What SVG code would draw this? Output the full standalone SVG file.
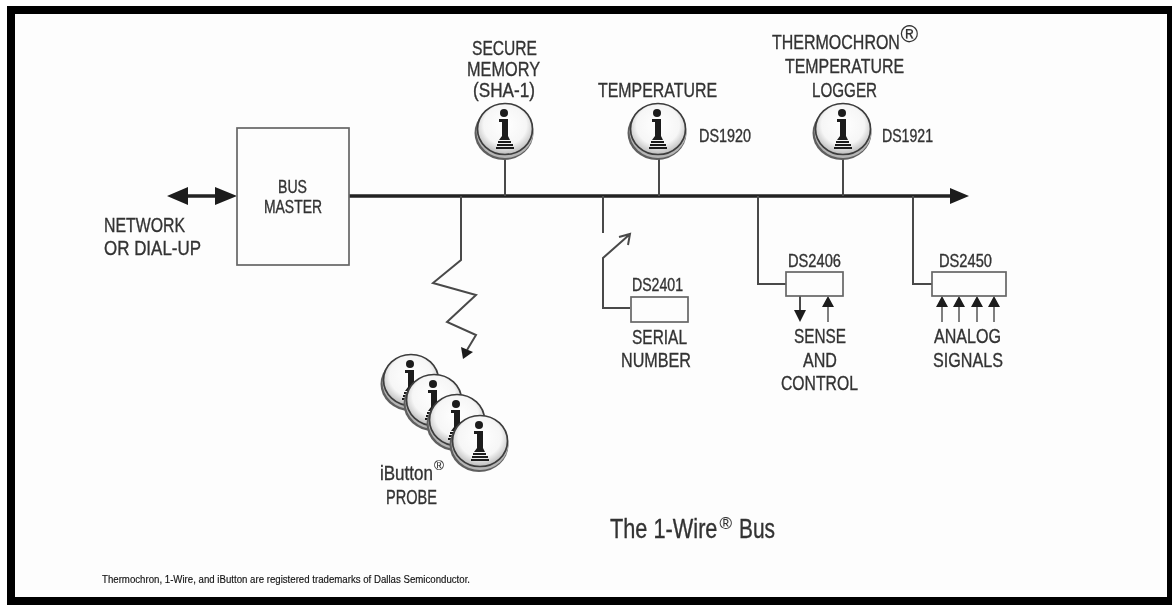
<svg xmlns="http://www.w3.org/2000/svg" width="1172" height="605" viewBox="0 0 1172 605">
<style>
text{font-family:"Liberation Sans",Arial,sans-serif;fill:#333;font-size:21px;stroke:#333;stroke-width:.35}
.s{font-size:17.5px}
.f{font-size:10.5px;fill:#111;stroke:#111;stroke-width:.15}
.t{font-size:27px}
.r{stroke-width:.1}
.wire{fill:none;stroke:#4a4a4a;stroke-width:2}
.thin{fill:none;stroke:#555;stroke-width:1.5}
.bus{fill:none;stroke:#222;stroke-width:3.4}
.box{fill:#fdfdfd;stroke:#666;stroke-width:1.7}
.head{fill:#1c1c1c;stroke:none}
</style>
<defs>
<filter id="soft" x="-2%" y="-2%" width="104%" height="104%"><feGaussianBlur stdDeviation="0.55"/></filter>
<radialGradient id="face" cx="50%" cy="42%" r="60%"><stop offset="0" stop-color="#fff"/><stop offset=".65" stop-color="#f6f6f6"/><stop offset="1" stop-color="#b5b5b5"/></radialGradient>
<g id="btn">
<ellipse cx="-1" cy="3" rx="29.5" ry="27" fill="#5f5f5f"/>
<ellipse cx="0" cy="1.5" rx="28.5" ry="26.5" fill="#b5b5b5"/>
<ellipse cx="0" cy="-1" rx="27.5" ry="25.5" fill="url(#face)" stroke="#3d3d3d" stroke-width="1.7"/>
<circle cx="-1" cy="-17" r="4" fill="#1c1c1c"/>
<path d="M-6-11H3V6L5 10H-6L-3 6V-8H-6Z" fill="#1c1c1c"/>
<path d="M-7 11H6V13H-7ZM-8 14H8V16H-8ZM-9 17H9V19H-9Z" fill="#1c1c1c"/>
</g>
</defs>
<rect width="1172" height="605" fill="#fff"/>
<g filter="url(#soft)">
<rect x="7" y="6" width="1170" height="605" fill="#000"/>
<rect x="15" y="14" width="1152" height="583" fill="#fdfdfd"/>
<g id="connectors">
<path class="bus" d="M349 196H955"/>
<path class="head" d="M950 188L969 196L950 204Z"/>
<path class="bus" d="M180 196H225"/>
<path class="head" d="M167 196L188 187V205ZM237 196L215 187V205Z"/>
<path class="wire" d="M505 158V196M659 158V196M843 158V196"/>
<path class="wire" d="M461 196V260L433 283L476 295L447 322L476 335L467 350"/>
<path class="head" d="M461 347L473 352L463 359Z"/>
<path class="wire" d="M603 196V233"/>
<path class="wire" d="M630 308H603V258L629 235M619 237L630 234L628 245"/>
<path class="wire" d="M758 196V284H786M913 196V284H932"/>
<path class="wire" d="M800 296V312"/>
<path class="head" d="M794 310H806L800 322Z"/>
<path class="thin" d="M828 306V322M942 306V322M959 306V322M977 306V322M994 306V322"/>
<path class="head" d="M822 307H834L828 296ZM936 307H948L942 296ZM953 307H965L959 296ZM971 307H983L977 296ZM988 307H1000L994 296Z"/>
</g>
<g id="bus-master"><rect class="box" x="237" y="128" width="112" height="137"/>
<text class="s" x="278" y="193" textLength="29" lengthAdjust="spacingAndGlyphs">BUS</text>
<text class="s" x="264" y="213" textLength="58" lengthAdjust="spacingAndGlyphs">MASTER</text></g>
<g id="network">
<text x="104" y="232" textLength="81" lengthAdjust="spacingAndGlyphs">NETWORK</text>
<text x="104" y="255" textLength="97" lengthAdjust="spacingAndGlyphs">OR DIAL-UP</text></g>
<g id="secure-memory">
<text x="472" y="55" textLength="65" lengthAdjust="spacingAndGlyphs">SECURE</text>
<text x="467" y="76" textLength="73" lengthAdjust="spacingAndGlyphs">MEMORY</text>
<text x="473" y="97" textLength="62" lengthAdjust="spacingAndGlyphs">(SHA-1)</text>
<use href="#btn" x="505" y="130"/></g>
<g id="temperature">
<text x="598" y="97" textLength="119" lengthAdjust="spacingAndGlyphs">TEMPERATURE</text>
<use href="#btn" x="658" y="130"/>
<text class="s" x="699" y="142" textLength="52" lengthAdjust="spacingAndGlyphs">DS1920</text></g>
<g id="thermochron">
<text transform="translate(772 49) scale(.762 1)">THERMOCHRON</text>
<text class="r" x="900.5" y="42" style="font-size:24px">®</text>
<text x="785" y="73" textLength="119" lengthAdjust="spacingAndGlyphs">TEMPERATURE</text>
<text x="812" y="97" textLength="65" lengthAdjust="spacingAndGlyphs">LOGGER</text>
<use href="#btn" x="843" y="130"/>
<text class="s" x="882" y="142" textLength="51" lengthAdjust="spacingAndGlyphs">DS1921</text></g>
<g id="ibutton-probe">
<use href="#btn" x="411" y="381"/>
<use href="#btn" x="434" y="401"/>
<use href="#btn" x="457" y="421"/>
<use href="#btn" x="480" y="442"/>
<text transform="translate(380 480) scale(.81 1)">iButton</text>
<text class="r" x="434" y="470" style="font-size:13.5px">®</text>
<text x="386" y="504" textLength="51" lengthAdjust="spacingAndGlyphs">PROBE</text></g>
<g id="ds2401">
<text class="s" x="632" y="291" textLength="51" lengthAdjust="spacingAndGlyphs">DS2401</text>
<rect class="box" x="631" y="297" width="57" height="25"/>
<text x="632" y="344" textLength="55" lengthAdjust="spacingAndGlyphs">SERIAL</text>
<text x="621" y="367" textLength="70" lengthAdjust="spacingAndGlyphs">NUMBER</text></g>
<g id="ds2406">
<text class="s" x="788" y="267" textLength="53" lengthAdjust="spacingAndGlyphs">DS2406</text>
<rect class="box" x="786" y="272" width="57" height="24"/>
<text x="794" y="343" textLength="52" lengthAdjust="spacingAndGlyphs">SENSE</text>
<text x="803" y="367" textLength="34" lengthAdjust="spacingAndGlyphs">AND</text>
<text x="781" y="390" textLength="77" lengthAdjust="spacingAndGlyphs">CONTROL</text></g>
<g id="ds2450">
<text class="s" x="939" y="267" textLength="53" lengthAdjust="spacingAndGlyphs">DS2450</text>
<rect class="box" x="932" y="272" width="74" height="24"/>
<text x="934" y="343" textLength="67" lengthAdjust="spacingAndGlyphs">ANALOG</text>
<text x="933" y="367" textLength="70" lengthAdjust="spacingAndGlyphs">SIGNALS</text></g>
<g id="title">
<text class="t" transform="translate(610 538) scale(.805 1)">The 1-Wire</text>
<text class="r" x="719.5" y="529" style="font-size:17px">®</text>
<text class="t" transform="translate(739 538) scale(.775 1)">Bus</text></g>
<g id="footnote"><text class="f" x="102" y="583" textLength="368" lengthAdjust="spacingAndGlyphs">Thermochron, 1-Wire, and iButton are registered trademarks of Dallas Semiconductor.</text></g>
</g>
</svg>
